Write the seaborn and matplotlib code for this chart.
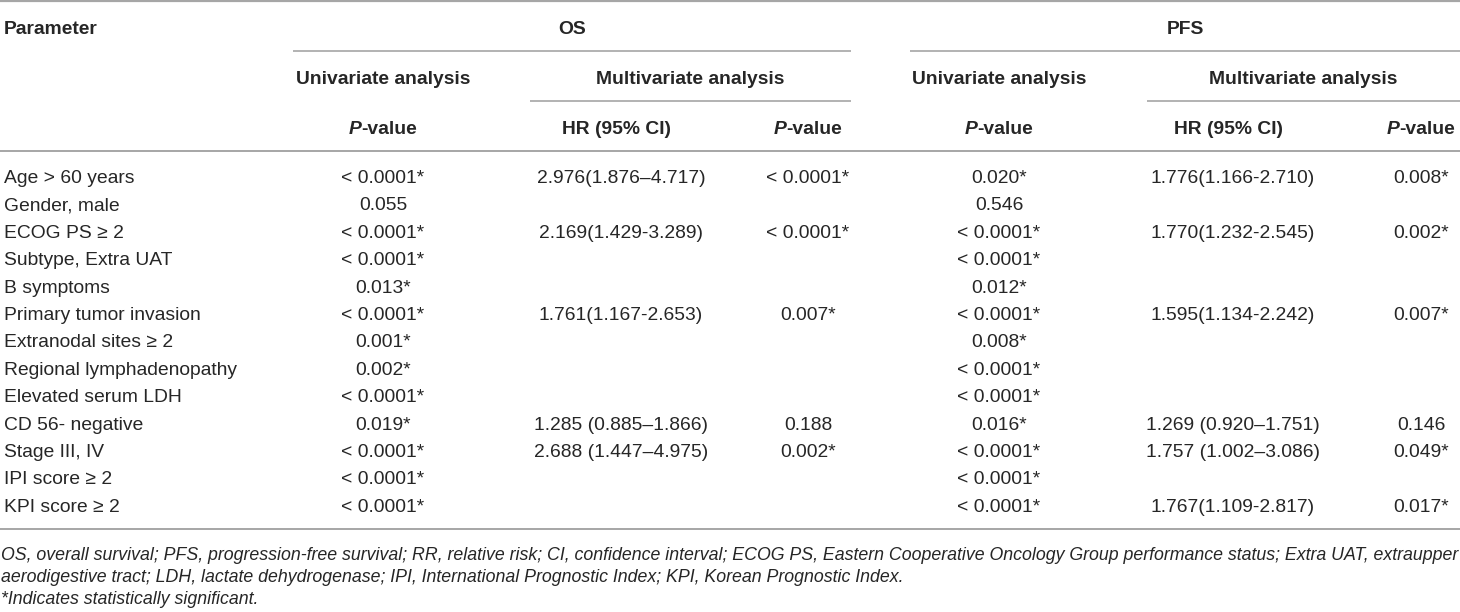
import matplotlib
matplotlib.use("Agg")
import matplotlib.pyplot as plt
from matplotlib import font_manager
import seaborn as sns

# ---- table content ----
parameters = ["Age > 60 years", "Gender, male", "ECOG PS ≥ 2", "Subtype, Extra UAT", "B symptoms",
              "Primary tumor invasion", "Extranodal sites ≥ 2", "Regional lymphadenopathy",
              "Elevated serum LDH", "CD 56- negative", "Stage III, IV", "IPI score ≥ 2", "KPI score ≥ 2"]
os_uni_p = ["< 0.0001*", "0.055", "< 0.0001*", "< 0.0001*", "0.013*", "< 0.0001*", "0.001*",
            "0.002*", "< 0.0001*", "0.019*", "< 0.0001*", "< 0.0001*", "< 0.0001*"]
os_multi_hr = ["2.976(1.876–4.717)", "", "2.169(1.429-3.289)", "", "", "1.761(1.167-2.653)", "",
               "", "", "1.285 (0.885–1.866)", "2.688 (1.447–4.975)", "", ""]
os_multi_p = ["< 0.0001*", "", "< 0.0001*", "", "", "0.007*", "", "", "", "0.188", "0.002*", "", ""]
pfs_uni_p = ["0.020*", "0.546", "< 0.0001*", "< 0.0001*", "0.012*", "< 0.0001*", "0.008*",
             "< 0.0001*", "< 0.0001*", "0.016*", "< 0.0001*", "< 0.0001*", "< 0.0001*"]
pfs_multi_hr = ["1.776(1.166-2.710)", "", "1.770(1.232-2.545)", "", "", "1.595(1.134-2.242)", "",
                "", "", "1.269 (0.920–1.751)", "1.757 (1.002–3.086)", "", "1.767(1.109-2.817)"]
pfs_multi_p = ["0.008*", "", "0.002*", "", "", "0.007*", "", "", "", "0.146", "0.049*", "", "0.017*"]

group_labels = ["OS", "PFS"]
analysis_labels = ["Univariate analysis", "Multivariate analysis"]
footnotes = [
    "OS, overall survival; PFS, progression-free survival; RR, relative risk; CI, confidence interval; "
    "ECOG PS, Eastern Cooperative Oncology Group performance status; Extra UAT, extraupper",
    "aerodigestive tract; LDH, lactate dehydrogenase; IPI, International Prognostic Index; "
    "KPI, Korean Prognostic Index.",
    "*Indicates statistically significant.",
]

# ---- layout (pixels) ----
W, H = 1460, 612
col_x = [383, 621, 808, 999, 1233, 1421]
hdr_x = [383, 617, 808, 999, 1229, 1421]
row_y0, row_step = 176, 27.4
cap = 7
text_col = "#262626"
line_col = "#a6a6a6"

sns.set_theme(style="white")
plt.rcParams["font.family"] = ["Liberation Sans", "DejaVu Sans"]
names = {f.name for f in font_manager.fontManager.ttflist}
note_family = "Liberation Sans Narrow" if "Liberation Sans Narrow" in names else "Liberation Sans"

fig = plt.figure(figsize=(W / 100, H / 100), dpi=100)
ax = fig.add_axes([0, 0, 1, 1])
ax.set_xlim(0, W)
ax.set_ylim(H, 0)
ax.axis("off")
fs = 13.9

# rules
ax.hlines(1, 0, W, color=line_col, lw=1.6)
ax.hlines(51, 293, 851, color=line_col, lw=1.2)
ax.hlines(51, 910, W, color=line_col, lw=1.2)
ax.hlines(101, 530, 851, color=line_col, lw=1.2)
ax.hlines(101, 1147, W, color=line_col, lw=1.2)
ax.hlines(151, 0, W, color=line_col, lw=1.4)
ax.hlines(529, 0, W, color=line_col, lw=1.4)

hdr = dict(fontsize=fs, weight="bold", color=text_col, va="baseline")
ax.text(4, 27 + cap, "Parameter", ha="left", **hdr)
ax.text(572, 27 + cap, group_labels[0], ha="center", **hdr)
ax.text(1185, 27 + cap, group_labels[1], ha="center", **hdr)
ax.text(hdr_x[0], 77 + cap, analysis_labels[0], ha="center", **hdr)
ax.text(690, 77 + cap, analysis_labels[1], ha="center", **hdr)
ax.text(hdr_x[3], 77 + cap, analysis_labels[0], ha="center", **hdr)
ax.text(1303, 77 + cap, analysis_labels[1], ha="center", **hdr)
ax.text(hdr_x[1], 127 + cap, "HR (95% CI)", ha="center", **hdr)
ax.text(hdr_x[4], 127 + cap, "HR (95% CI)", ha="center", **hdr)

# P-value headers: italic P + bold "-value", centred as one piece
pv = []
for i in (0, 2, 3, 5):
    t1 = ax.text(0, 127 + cap, "P", style="italic", ha="left", **hdr)
    t2 = ax.text(0, 127 + cap, "-value", ha="left", **hdr)
    pv.append((hdr_x[i], t1, t2))

# body
columns = [os_uni_p, os_multi_hr, os_multi_p, pfs_uni_p, pfs_multi_hr, pfs_multi_p]
body = dict(fontsize=fs, color=text_col, va="baseline")
for r, name in enumerate(parameters):
    yb = row_y0 + r * row_step + cap
    ax.text(4, yb, name, ha="left", **body)
    for c, vals in enumerate(columns):
        if vals[r]:
            ax.text(col_x[c], yb, vals[r], ha="center", **body)

# footnotes
note_y = [553, 575, 597]
notes = []
for s, yc in zip(footnotes, note_y):
    notes.append(ax.text(1, yc + cap, s, ha="left", va="baseline", style="italic",
                         family=[note_family, "DejaVu Sans"], fontsize=fs, color=text_col))

fig.canvas.draw()
rend = fig.canvas.get_renderer()
for xc, t1, t2 in pv:
    w1 = t1.get_window_extent(rend).width
    w2 = t2.get_window_extent(rend).width
    x0 = xc - (w1 + w2) / 2
    t1.set_x(x0)
    t2.set_x(x0 + w1)
# shrink the note font so the first line spans the table width
w = notes[0].get_window_extent(rend).width
nfs = fs * 1456 / w
for t in notes:
    t.set_fontsize(nfs)

fig.savefig("out.png", dpi=100)
